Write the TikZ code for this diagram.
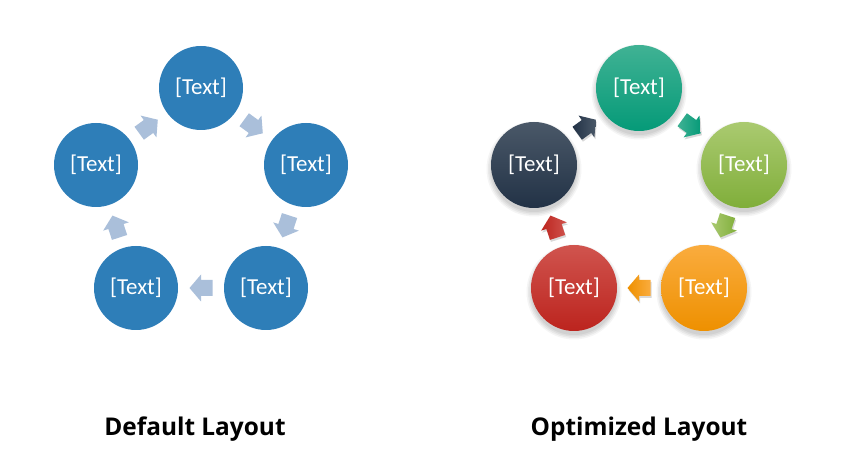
\documentclass[tikz,border=0pt]{standalone}
\usepackage{fontspec}
\setmainfont{Carlito}
\newfontfamily\labelfont{Open Sans}
\usetikzlibrary{calc}
\definecolor{sablue}{RGB}{46,126,184}
\definecolor{arrblue}{RGB}{170,191,218}
\definecolor{tealT}{RGB}{64,178,148}
\definecolor{tealB}{RGB}{5,154,120}
\definecolor{greenT}{RGB}{170,202,112}
\definecolor{greenB}{RGB}{128,174,58}
\definecolor{orangeT}{RGB}{250,172,62}
\definecolor{orangeB}{RGB}{238,144,0}
\definecolor{redT}{RGB}{208,84,78}
\definecolor{redB}{RGB}{188,36,30}
\definecolor{navyT}{RGB}{74,88,104}
\definecolor{navyB}{RGB}{34,50,70}
\begin{document}
\begin{tikzpicture}[x=1bp,y=1bp,
  blob/.style={circle, minimum size=84bp, inner sep=0pt, text=white,
    font=\fontsize{23}{27}\selectfont},
  flat/.style={blob, fill=sablue},
  glossy/.style 2 args={blob, minimum size=86bp, top color=#1, bottom color=#2},
  caption/.style={font=\labelfont\bfseries\fontsize{24.5}{29}\selectfont, anchor=base},
  blockarr/.pic={\path[pic actions] (-11.5,8) -- (0,8) -- (0,13.5) -- (11.5,0)
      -- (0,-13.5) -- (0,-8) -- (-11.5,-8) -- cycle;},
  softshadow/.pic={\foreach \r/\o in {0/0.05,1.5/0.05,3/0.05,4.5/0.04}
      {\fill[black,opacity=\o] (0,0) circle[radius=43bp+\r bp];}}
]
\useasboundingbox (0,0) rectangle (843,-471);
% ---------- default layout ----------
\node[flat] (a1) at (201,-88) {[Text]};
\node[flat] (a2) at (306,-165) {[Text]};
\node[flat] (a3) at (266,-288) {[Text]};
\node[flat] (a4) at (136,-288) {[Text]};
\node[flat] (a5) at (96,-165) {[Text]};
\pic[fill=arrblue, rotate=-36] at ($(a1)!0.5!(a2)$) {blockarr};
\pic[fill=arrblue, rotate=-108] at ($(a2)!0.5!(a3)$) {blockarr};
\pic[fill=arrblue, rotate=180] at ($(a3)!0.5!(a4)$) {blockarr};
\pic[fill=arrblue, rotate=108] at ($(a4)!0.5!(a5)$) {blockarr};
\pic[fill=arrblue, rotate=36] at ($(a5)!0.5!(a1)$) {blockarr};
% ---------- optimized layout ----------
\foreach \p in {(639,-92),(744,-169),(704,-292),(574,-292),(534,-169)}
  \pic at \p {softshadow};
\node[glossy={tealT}{tealB}] (b1) at (639,-88) {[Text]};
\node[glossy={greenT}{greenB}] (b2) at (744,-165) {[Text]};
\node[glossy={orangeT}{orangeB}] (b3) at (704,-288) {[Text]};
\node[glossy={redT}{redB}] (b4) at (574,-288) {[Text]};
\node[glossy={navyT}{navyB}] (b5) at (534,-165) {[Text]};
\pic[fill=black, opacity=0.15, rotate=-36] at ($(b1)!0.5!(b2)+(1,-2)$) {blockarr};
\pic[fill=black, opacity=0.15, rotate=-108] at ($(b2)!0.5!(b3)+(1,-2)$) {blockarr};
\pic[fill=black, opacity=0.15, rotate=180] at ($(b3)!0.5!(b4)+(1,-2)$) {blockarr};
\pic[fill=black, opacity=0.15, rotate=108] at ($(b4)!0.5!(b5)+(1,-2)$) {blockarr};
\pic[fill=black, opacity=0.15, rotate=36] at ($(b5)!0.5!(b1)+(1,-2)$) {blockarr};
\pic[left color=tealT, right color=tealB, rotate=-36] at ($(b1)!0.5!(b2)$) {blockarr};
\pic[left color=greenT, right color=greenB, rotate=-108] at ($(b2)!0.5!(b3)$) {blockarr};
\pic[right color=orangeT, left color=orangeB, rotate=180] at ($(b3)!0.5!(b4)$) {blockarr};
\pic[left color=redB, right color=redT, rotate=108] at ($(b4)!0.5!(b5)$) {blockarr};
\pic[left color=navyB, right color=navyT, rotate=36] at ($(b5)!0.5!(b1)$) {blockarr};
% ---------- captions ----------
\node[caption] (c1) at (195,-435) {Default Layout};
\node[caption] (c2) at (639,-435) {Optimized Layout};
\end{tikzpicture}
\end{document}
